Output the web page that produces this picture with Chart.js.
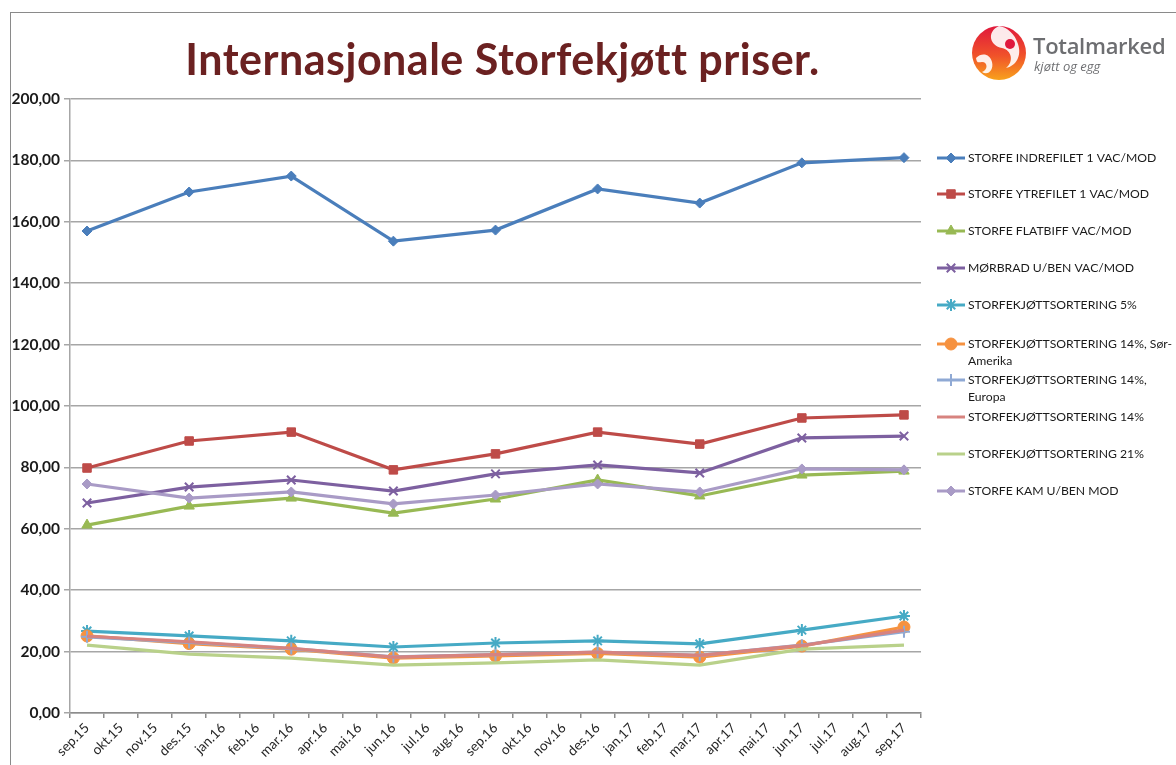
<!DOCTYPE html>
<html>
<head>
<meta charset="utf-8">
<script src="https://cdn.jsdelivr.net/npm/chart.js@4.4.0/dist/chart.umd.min.js"></script>
<style>
  html, body { margin: 0; padding: 0; background: #fff; }
  #wrap { position: relative; width: 1176px; height: 765px; overflow: hidden; }
  #frame { position: absolute; left: 10px; top: 12px; width: 1200px; height: 800px;
           border-top: 1px solid #8a8a8a; border-left: 1px solid #8a8a8a; }
  #title { position: absolute; left: 0; top: 33px; width: 1005px; text-align: center;
           font-family: Lato, "Open Sans", sans-serif; font-weight: bold; font-size: 43px;
           letter-spacing: 0.5px; color: #6b2121; }
  #logo { position: absolute; left: 970px; top: 22px; width: 200px; height: 62px; }
  #logo .t1 { position: absolute; left: 63px; top: 8px; font-family: "Open Sans", sans-serif;
              font-weight: 600; font-size: 22px; color: #6d6e71; letter-spacing: -0.3px; }
  #logo .t2 { position: absolute; left: 64px; top: 35px; font-family: "Open Sans", sans-serif;
              font-style: italic; font-size: 13px; color: #6d6e71; }
  #c { position: absolute; left: 0; top: 0; }
</style>
</head>
<body>
<div id="wrap">
  <div id="frame"></div>
  <canvas id="c" width="1176" height="765"></canvas>
  <div id="title">Internasjonale Storfekjøtt priser.</div>
  <div id="logo">
    <svg width="60" height="62" viewBox="0 0 60 62">
      <defs>
        <linearGradient id="g1" x1="0" y1="0" x2="0" y2="1">
          <stop offset="0" stop-color="#e0183c"/>
          <stop offset="0.55" stop-color="#f0522a"/>
          <stop offset="1" stop-color="#f8a21c"/>
        </linearGradient>
      </defs>
      <circle cx="29" cy="31" r="27" fill="url(#g1)"/>
      <path d="M29 4 C16 10 20 24 32 26 C42 28 44 40 36 46 C46 44 52 34 48 22 C45 12 37 5 29 4 Z" fill="#fff" opacity="0.9"/>
      <circle cx="40" cy="22" r="5" fill="#e0183c"/>
      <path d="M6 36 C12 30 20 32 22 40 C24 48 18 54 12 50 C18 48 18 40 12 40 C9 40 7 42 6 36 Z" fill="#fff" opacity="0.9"/>
    </svg>
    <div class="t1">Totalmarked</div>
    <div class="t2">kjøtt og egg</div>
  </div>
</div>
<script>
document.addEventListener('DOMContentLoaded', function() {
    // Måneder på x-aksen
    const maaneder = ['sep.15','okt.15','nov.15','des.15','jan.16','feb.16','mar.16','apr.16','mai.16',
        'jun.16','jul.16','aug.16','sep.16','okt.16','nov.16','des.16','jan.17','feb.17','mar.17',
        'apr.17','mai.17','jun.17','jul.17','aug.17','sep.17'];

    // Priser, kun hvert kvartal (null = ingen måling)
    const indrefilet  = [157.0,null,null,169.7,null,null,174.9,null,null,153.7,null,null,157.3,null,null,170.7,null,null,166.1,null,null,179.2,null,null,180.9];
    const ytrefilet   = [79.8,null,null,88.6,null,null,91.5,null,null,79.2,null,null,84.4,null,null,91.5,null,null,87.6,null,null,96.1,null,null,97.1];
    const flatbiff    = [61.2,null,null,67.4,null,null,70.0,null,null,65.1,null,null,69.7,null,null,75.9,null,null,70.7,null,null,77.5,null,null,78.8];
    const morbrad     = [68.4,null,null,73.6,null,null,75.9,null,null,72.3,null,null,77.9,null,null,80.8,null,null,78.2,null,null,89.6,null,null,90.2];
    const sortering5  = [26.7,null,null,25.1,null,null,23.5,null,null,21.5,null,null,22.8,null,null,23.5,null,null,22.5,null,null,27.0,null,null,31.6];
    const sort14SorAm = [25.1,null,null,22.6,null,null,20.8,null,null,17.9,null,null,18.6,null,null,19.4,null,null,18.2,null,null,21.8,null,null,28.0];
    const sort14Eur   = [24.8,null,null,23.0,null,null,21.0,null,null,18.3,null,null,19.0,null,null,19.8,null,null,18.8,null,null,22.1,null,null,26.5];
    const sort14      = [25.0,null,null,23.2,null,null,21.1,null,null,18.2,null,null,19.0,null,null,19.8,null,null,18.8,null,null,22.0,null,null,27.0];
    const sort21      = [22.1,null,null,19.2,null,null,17.9,null,null,15.6,null,null,16.3,null,null,17.3,null,null,15.6,null,null,20.8,null,null,22.1];
    const kam         = [74.6,null,null,70.0,null,null,72.0,null,null,68.1,null,null,71.0,null,null,74.6,null,null,72.0,null,null,79.5,null,null,79.2];

    const serier = [
        { navn: ['STORFE INDREFILET 1 VAC/MOD'], data: indrefilet, farge: '#4a7ebb', punkt: 'rectRot', r: 5 },
        { navn: ['STORFE YTREFILET 1 VAC/MOD'], data: ytrefilet, farge: '#be4b48', punkt: 'rect', r: 6 },
        { navn: ['STORFE FLATBIFF VAC/MOD'], data: flatbiff, farge: '#98b954', punkt: 'triangle', r: 6 },
        { navn: ['MØRBRAD U/BEN VAC/MOD'], data: morbrad, farge: '#7d60a0', punkt: 'crossRot', r: 6 },
        { navn: ['STORFEKJØTTSORTERING 5%'], data: sortering5, farge: '#46aac5', punkt: 'star', r: 6 },
        { navn: ['STORFEKJØTTSORTERING 14%, Sør-', 'Amerika'], data: sort14SorAm, farge: '#f69240', punkt: 'circle', r: 6 },
        { navn: ['STORFEKJØTTSORTERING 14%,', 'Europa'], data: sort14Eur, farge: '#8fa9d4', punkt: 'cross', r: 6 },
        { navn: ['STORFEKJØTTSORTERING 14%'], data: sort14, farge: '#d7837f', punkt: false, r: 0 },
        { navn: ['STORFEKJØTTSORTERING 21%'], data: sort21, farge: '#b9d18a', punkt: false, r: 0 },
        { navn: ['STORFE KAM U/BEN MOD'], data: kam, farge: '#a99bc6', punkt: 'rectRot', r: 5 }
    ];

    // Legendens posisjoner (midtlinje for hvert element)
    const legendY = [158, 194, 231, 268, 305, 344, 380, 417, 454, 491];

    const datasets = serier.map((s, i) => ({
        label: s.navn.join(' '),
        data: s.data,
        borderColor: s.farge,
        backgroundColor: s.farge,
        borderWidth: 3.2,
        pointStyle: s.punkt,
        pointRadius: s.r,
        pointBorderWidth: (s.punkt === 'crossRot' || s.punkt === 'cross' || s.punkt === 'star') ? 2 : 1,
        spanGaps: true,
        tension: 0,
        order: serier.length - i
    }));

    // Egen legende til høyre
    const egenLegende = {
        id: 'egenLegende',
        afterDraw(chart) {
            const ctx = chart.ctx;
            ctx.save();
            ctx.font = '12.2px Lato, "Open Sans", sans-serif';
            ctx.textBaseline = 'middle';
            serier.forEach((s, i) => {
                const y = legendY[i];
                ctx.strokeStyle = s.farge;
                ctx.lineWidth = 3;
                ctx.beginPath();
                ctx.moveTo(937, y);
                ctx.lineTo(965, y);
                ctx.stroke();
                if (s.punkt) {
                    ctx.fillStyle = s.farge;
                    ctx.lineWidth = (s.punkt === 'crossRot' || s.punkt === 'cross' || s.punkt === 'star') ? 2 : 1;
                    Chart.helpers.drawPoint(ctx, { pointStyle: s.punkt, radius: s.r, borderWidth: 1 }, 951, y);
                }
                ctx.fillStyle = '#1a1a1a';
                s.navn.forEach((linje, k) => ctx.fillText(linje, 968, y + k * 17));
            });
            ctx.restore();
        }
    };

    const ctx = document.getElementById('c').getContext('2d');
    new Chart(ctx, {
        type: 'line',
        data: { labels: maaneder, datasets: datasets },
        options: {
            responsive: false,
            animation: false,
            layout: { padding: { top: 99, right: 255, left: 6, bottom: 0 } },
            plugins: { legend: { display: false }, tooltip: { enabled: false } },
            scales: {
                x: {
                    offset: true,
                    grid: { display: true, drawOnChartArea: false, offset: true, color: '#8c8c8c', tickLength: 5, lineWidth: 1.5 },
                    border: { color: '#8c8c8c', width: 1.5 },
                    ticks: {
                        autoSkip: false, maxRotation: 45, minRotation: 45, color: '#262626', padding: 2,
                        font: { family: 'Lato, "Open Sans", sans-serif', size: 13.5 }
                    },
                    afterFit(scale) { scale.height = 52; }
                },
                y: {
                    min: 0, max: 200,
                    grid: { color: '#a6a6a6', lineWidth: 1.5, tickLength: 6 },
                    border: { color: '#a6a6a6', width: 1.5 },
                    ticks: {
                        stepSize: 20, color: '#1a1a1a', padding: 4,
                        font: { family: 'Lato, "Open Sans", sans-serif', size: 15.5, weight: 'bold' },
                        callback: v => v.toFixed(2).replace('.', ',')
                    },
                    afterFit(scale) { scale.width = 64; }
                }
            }
        },
        plugins: [egenLegende]
    });
});
</script>
</body>
</html>
